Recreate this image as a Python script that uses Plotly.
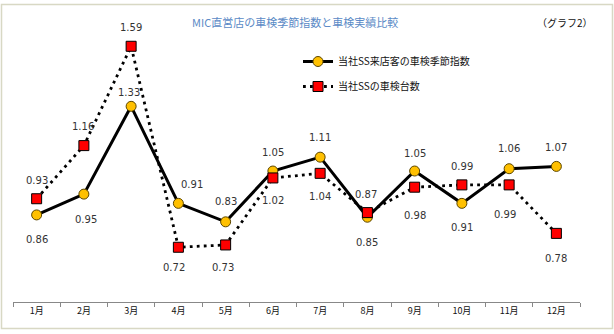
import plotly.graph_objects as go

months = ["1月", "2月", "3月", "4月", "5月", "6月", "7月", "8月", "9月", "10月", "11月", "12月"]
seasonal_index = [0.86, 0.95, 1.33, 0.91, 0.83, 1.05, 1.11, 0.85, 1.05, 0.91, 1.06, 1.07]
inspection_count = [0.93, 1.16, 1.59, 0.72, 0.73, 1.02, 1.04, 0.87, 0.98, 0.99, 0.99, 0.78]

name_a = "当社SS来店客の車検季節指数"
name_b = "当社SSの車検台数"
title_text = "MIC直営店の車検季節指数と車検実績比較"
tag_text = "（グラフ2）"

# label offsets in pixels (style, not data)
off_a = [(0, 25), (2, 25), (-2, -14), (14, -19), (0, -20), (0, -19), (0, -20),
         (0, 25), (0, -18), (0, 24), (0, -20), (0, -19)]
off_b = [(0, -18), (-1, -19), (0, -19), (-4, 20), (-3, 23), (0, 23), (0, 23),
         (-1, -18), (0, 28), (0, -18), (-4, 30), (0, 25)]

W, H = 614, 334
L, R, T, B = 13, 34, 10, 32
pw, ph = W - L - R, H - T - B

fig = go.Figure()
fig.add_trace(go.Scatter(
    x=months, y=seasonal_index, name=name_a, mode="lines+markers",
    line=dict(color="black", width=3),
    marker=dict(symbol="circle", size=10, color="#FFC000", line=dict(color="#5a4500", width=1)),
    legendgroup="a",
))
fig.add_trace(go.Scatter(
    x=months, y=inspection_count, name=name_b, mode="lines+markers",
    line=dict(color="black", width=2.8, dash="2.8px,4.2px"),
    marker=dict(symbol="square", size=10, color="#FF0000", line=dict(color="black", width=1)),
    legendgroup="b",
))

lab_font = dict(family="DejaVu Sans, Verdana, sans-serif", size=10, color="#333333")
for xs, ys, offs in ((months, seasonal_index, off_a), (months, inspection_count, off_b)):
    for xv, yv, (dx, dy) in zip(xs, ys, offs):
        fig.add_annotation(x=xv, y=yv, text=f"{yv:.2f}", showarrow=False,
                           xshift=dx, yshift=-dy, font=lab_font)

def px_x(p):
    return (p - L) / pw

def px_y(p):
    return (H - B - p) / ph

fig.add_annotation(xref="paper", yref="paper", x=px_x(295), y=px_y(22), text=title_text,
                   showarrow=False, xanchor="center", yanchor="middle",
                   font=dict(family="Noto Sans CJK JP", size=11, color="#5B8AC6"))
fig.add_annotation(xref="paper", yref="paper", x=px_x(565), y=px_y(22), text=tag_text,
                   showarrow=False, xanchor="center", yanchor="middle",
                   font=dict(family="Noto Sans CJK JP", size=10, color="#111111"))

fig.add_shape(type="rect", xref="paper", yref="paper",
              x0=px_x(1.5), x1=px_x(612.5), y0=px_y(328.5), y1=px_y(4.5),
              line=dict(color="#D8D8C4", width=1.5), fillcolor="rgba(0,0,0,0)", layer="below")

fig.update_layout(
    width=W, height=H,
    margin=dict(l=L, r=R, t=T, b=B),
    paper_bgcolor="white", plot_bgcolor="white",
    showlegend=True,
    legend=dict(x=px_x(298), y=px_y(47), xanchor="left", yanchor="top",
                bgcolor="rgba(0,0,0,0)", tracegroupgap=6,
                font=dict(family="Noto Sans CJK JP", size=10, color="#111111")),
    xaxis=dict(type="category", showline=True, linecolor="#888888", linewidth=1,
               ticks="outside", ticklen=4, tickcolor="#888888", tickson="boundaries",
               showgrid=False, zeroline=False, range=[-0.5, 11.5],
               tickfont=dict(family="Noto Sans CJK JP", size=9, color="#111111")),
    yaxis=dict(visible=False, range=[0.483, 1.747], showgrid=False, zeroline=False),
)

fig.write_html("out.html")
